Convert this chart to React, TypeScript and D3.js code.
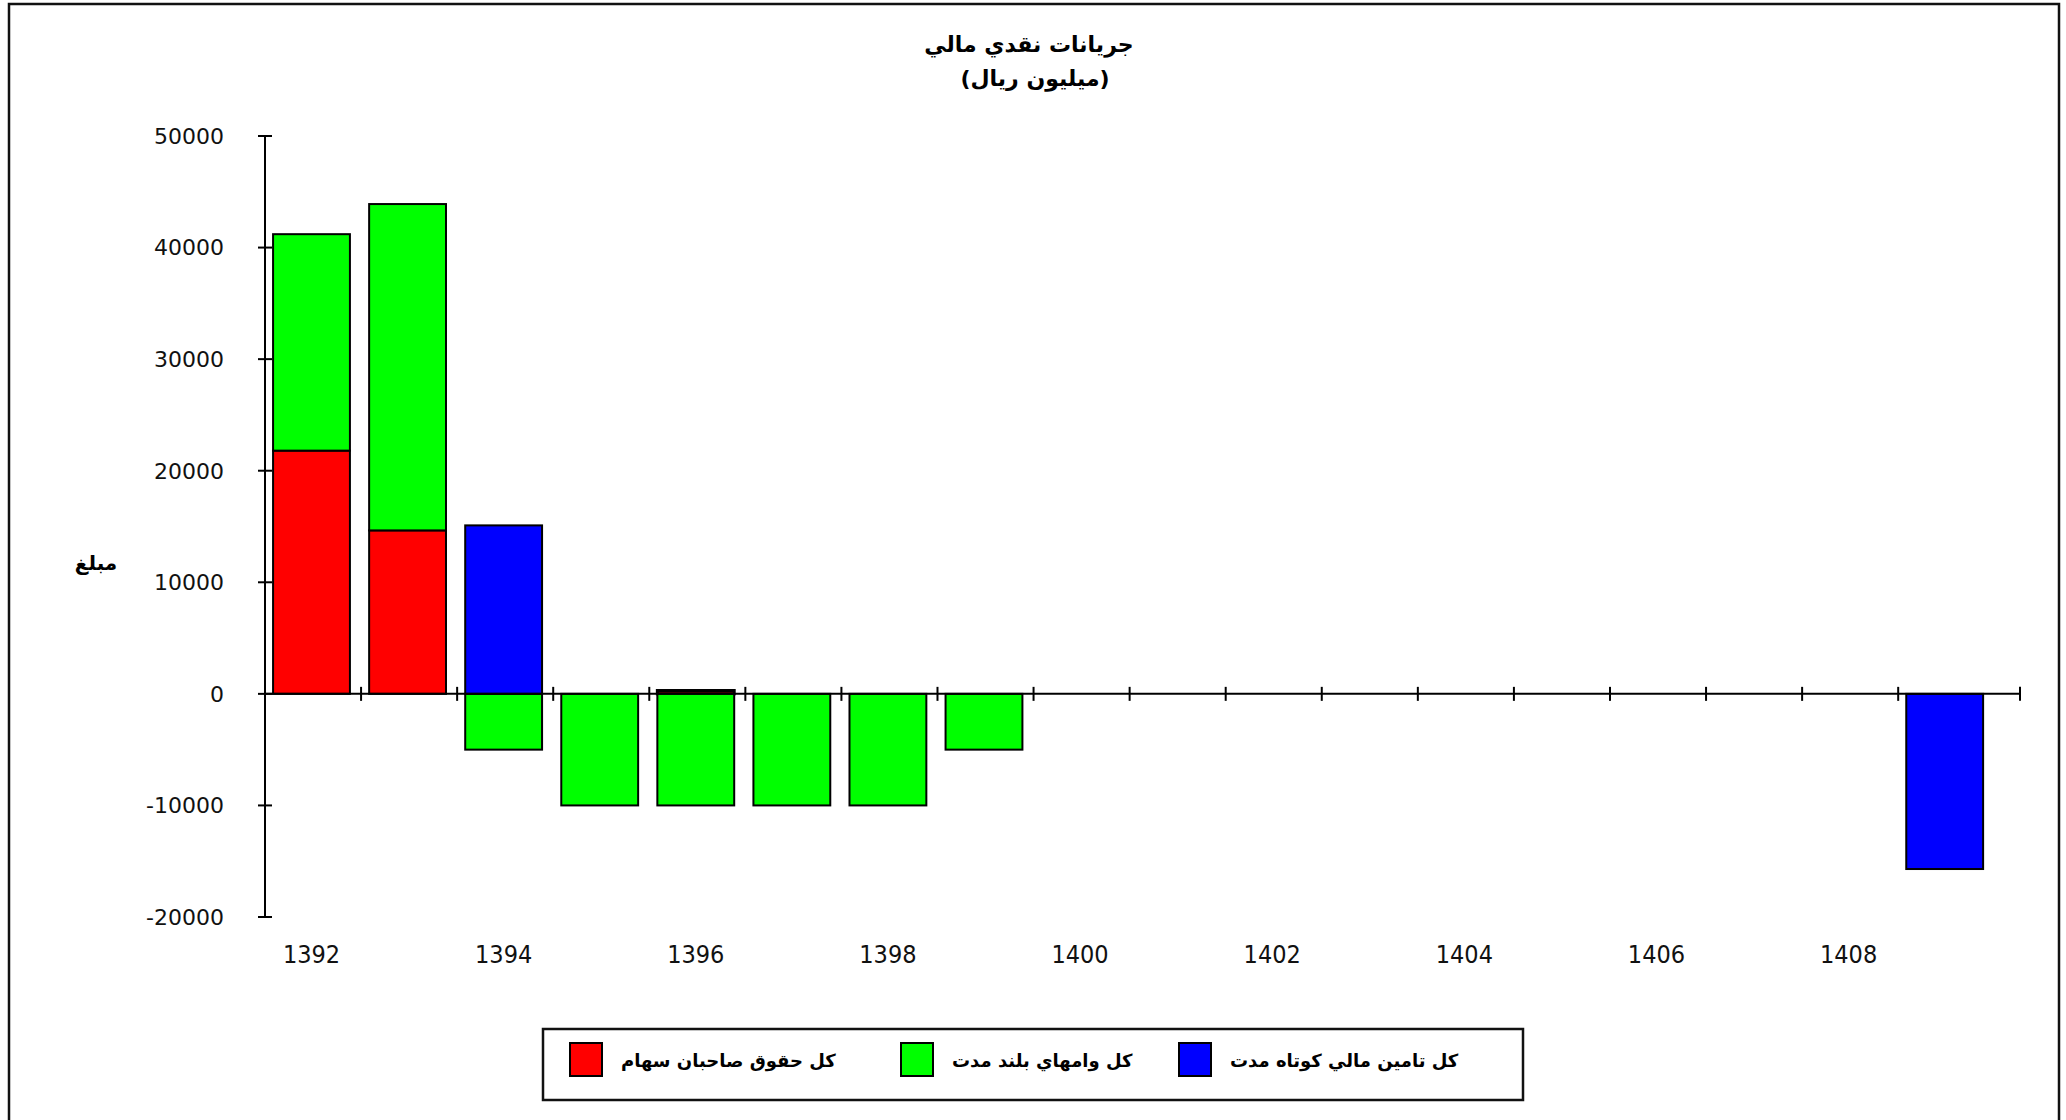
import React, { useEffect, useRef } from 'react';
import * as d3 from 'd3';

// سالها (محور افقي)
const years = [
  '1392', '1393', '1394', '1395', '1396', '1397', '1398', '1399', '1400',
  '1401', '1402', '1403', '1404', '1405', '1406', '1407', '1408', '1409',
];

// كل حقوق صاحبان سهام
const equity = [21800, 14650, 0, 0, 300, 0, 0, 0, 0, 0, 0, 0, 0, 0, 0, 0, 0, 0];
// كل وامهاي بلند مدت
const longTermLoans = [19400, 29250, -5000, -10000, -10000, -10000, -10000, -5000, 0, 0, 0, 0, 0, 0, 0, 0, 0, 0];
// كل تامين مالي كوتاه مدت
const shortTermFinance = [0, 0, 15100, 0, 0, 0, 0, 0, 0, 0, 0, 0, 0, 0, 0, 0, 0, -15700];

const seriesNames = ['كل حقوق صاحبان سهام', 'كل وامهاي بلند مدت', 'كل تامين مالي كوتاه مدت'];
const seriesColors = ['#ff0000', '#00ff00', '#0000ff'];
const yTicks = [-20000, -10000, 0, 10000, 20000, 30000, 40000, 50000];
const xLabels = ['1392', '1394', '1396', '1398', '1400', '1402', '1404', '1406', '1408'];

const arabicFont = '"DejaVu Sans", "Noto Sans", sans-serif';

export default function App() {
  const ref = useRef<SVGSVGElement>(null);

  useEffect(() => {
    const svg = d3.select(ref.current);
    svg.selectAll('*').remove();

    const H = 1120;
    const left = 265;
    const step = 96.07;
    const top = 136;
    const bottom = 917;
    const axisEnd = 2020;

    // outer frame
    svg.append('rect')
      .attr('x', 9).attr('y', 4)
      .attr('width', 2050).attr('height', H + 40)
      .attr('fill', 'white')
      .attr('stroke', '#111').attr('stroke-width', 2.5);

    const x = d3.scaleBand<string>()
      .domain(years)
      .range([left, left + step * years.length])
      .paddingInner(0.2)
      .paddingOuter(0.1)
      .align(0.42);

    const y = d3.scaleLinear().domain([-20000, 50000]).range([bottom, top]);

    const rows = years.map((yr, i) => ({
      year: yr,
      s0: equity[i],
      s1: longTermLoans[i],
      s2: shortTermFinance[i],
    }));

    const layers = d3.stack<any>()
      .keys(['s0', 's1', 's2'])
      .offset(d3.stackOffsetDiverging)(rows);

    // bars
    const g = svg.append('g');
    layers.forEach((layer, li) => {
      g.selectAll(null)
        .data(layer.filter((d) => d[1] !== d[0]))
        .enter()
        .append('rect')
        .attr('x', (d) => x(d.data.year) as number)
        .attr('width', x.bandwidth())
        .attr('y', (d) => y(Math.max(d[0], d[1])))
        .attr('height', (d) => Math.abs(y(d[0]) - y(d[1])))
        .attr('fill', seriesColors[li])
        .attr('stroke', '#000')
        .attr('stroke-width', (d) => (Math.abs(d[1] - d[0]) < 1000 ? 3 : 2));
    });

    // y axis
    svg.append('line')
      .attr('x1', left).attr('x2', left)
      .attr('y1', y(50000)).attr('y2', y(-20000))
      .attr('stroke', '#000').attr('stroke-width', 2);
    svg.selectAll('.ytick')
      .data(yTicks)
      .enter()
      .append('line')
      .attr('x1', left - 7).attr('x2', left + 7)
      .attr('y1', (d) => y(d)).attr('y2', (d) => y(d))
      .attr('stroke', '#000').attr('stroke-width', 2);
    svg.selectAll('.ylab')
      .data(yTicks)
      .enter()
      .append('text')
      .attr('x', 224)
      .attr('y', (d) => y(d))
      .attr('dy', '0.36em')
      .attr('text-anchor', 'end')
      .attr('font-family', '"DejaVu Sans", sans-serif')
      .attr('font-size', 22)
      .attr('fill', '#111')
      .text((d) => String(d));

    // x axis at zero
    svg.append('line')
      .attr('x1', left).attr('x2', axisEnd)
      .attr('y1', y(0)).attr('y2', y(0))
      .attr('stroke', '#000').attr('stroke-width', 2);
    const tickXs = years.map((_, i) => left + i * x.step()).concat([axisEnd]);
    svg.selectAll('.xtick')
      .data(tickXs)
      .enter()
      .append('line')
      .attr('x1', (d) => d).attr('x2', (d) => d)
      .attr('y1', y(0) - 7).attr('y2', y(0) + 7)
      .attr('stroke', '#000').attr('stroke-width', 2);
    svg.selectAll('.xlab')
      .data(xLabels)
      .enter()
      .append('text')
      .attr('x', (d) => (x(d) as number) + x.bandwidth() / 2)
      .attr('y', 963)
      .attr('text-anchor', 'middle')
      .attr('font-family', '"Liberation Sans Narrow", "DejaVu Sans Condensed", "Liberation Sans", sans-serif')
      .attr('font-stretch', 'condensed')
      .attr('font-size', 25)
      .attr('fill', '#111')
      .text((d) => d);

    // title
    svg.append('text')
      .attr('x', 1029).attr('y', 52)
      .attr('text-anchor', 'middle')
      .attr('font-family', arabicFont)
      .attr('font-weight', 'bold')
      .attr('font-size', 22)
      .text('جريانات نقدي مالي');
    svg.append('text')
      .attr('x', 1035).attr('y', 86)
      .attr('text-anchor', 'middle')
      .attr('font-family', arabicFont)
      .attr('font-weight', 'bold')
      .attr('font-size', 22)
      .text('(ميليون ريال)');

    // y label
    svg.append('text')
      .attr('x', 96).attr('y', 570)
      .attr('text-anchor', 'middle')
      .attr('font-family', arabicFont)
      .attr('font-weight', 'bold')
      .attr('font-size', 20)
      .text('مبلغ');

    // legend
    svg.append('rect')
      .attr('x', 543).attr('y', 1029)
      .attr('width', 980).attr('height', 71)
      .attr('fill', 'white')
      .attr('stroke', '#111').attr('stroke-width', 2.5);
    const legendX = [570, 901, 1179];
    const lg = svg.selectAll('.leg')
      .data(seriesNames)
      .enter()
      .append('g')
      .attr('transform', (_, i) => `translate(${legendX[i]}, 1043)`);
    lg.append('rect')
      .attr('width', 32).attr('height', 33)
      .attr('fill', (_, i) => seriesColors[i])
      .attr('stroke', '#000').attr('stroke-width', 2);
    lg.append('text')
      .attr('x', 51).attr('y', 24)
      .attr('text-anchor', 'start')
      .attr('font-family', arabicFont)
      .attr('font-weight', 'bold')
      .attr('font-size', 18)
      .text((d) => d);
  }, []);

  return (
    <svg
      ref={ref}
      width={2066}
      height={1120}
      style={{ position: 'absolute', left: 0, top: 0, background: 'white' }}
    />
  );
}
